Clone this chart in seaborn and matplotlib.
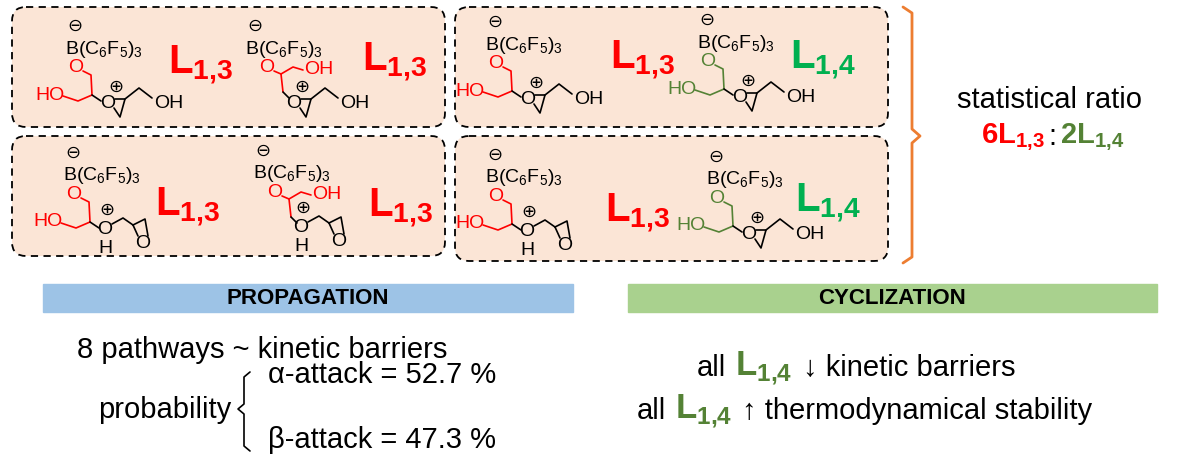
import matplotlib
matplotlib.use("Agg")
import matplotlib.pyplot as plt
import seaborn as sns
from matplotlib.patches import FancyBboxPatch, Rectangle

sns.set_theme(style="white")
plt.rcParams['font.family'] = ['Liberation Sans', 'DejaVu Sans']
plt.rcParams['mathtext.fontset'] = 'custom'
plt.rcParams['mathtext.rm'] = 'Liberation Sans'
plt.rcParams['mathtext.bf'] = 'Liberation Sans:bold'

RED, GREEN = '#ff0000', '#548235'
LGREEN = '#00b050'

# data
box_labels = [['1,3', '1,3'], ['1,3', '1,4'], ['1,3', '1,3'], ['1,3', '1,4']]
headers = ['PROPAGATION', 'CYCLIZATION']
n_pathways = 8
alpha_pct = 52.7
beta_pct = 47.3
ratio = [6, 2]

fig = plt.figure(figsize=(11.83, 4.77), dpi=100)
ax = fig.add_axes([0, 0, 1, 1])
ax.set_xlim(0, 1183)
ax.set_ylim(477, 0)
ax.axis('off')

def line(pts, c, ox, oy):
    ax.plot([ox + p[0] for p in pts], [oy + p[1] for p in pts], color=c, lw=1.2)

def txt(x, y, s, c='black', size=14, **kw):
    ax.text(x, y, s, color=c, fontsize=size, ha=kw.pop('ha', 'center'), va=kw.pop('va', 'center'), **kw)

def charge(x, y, s):
    txt(x, y, s, size=13)

def sub(s):
    return s.replace(',', '{,}')

def mol(kind, ox, oy, c):
    charge(ox, oy, '⊖')
    txt(ox - 10, oy + 23, 'B(C$_6$F$_5$)$_3$', ha='left')
    if kind in ('A', 'B'):
        txt(ox + 1, oy + 42, 'O', c)
        txt(ox - 25, oy + 69, 'HO', c)
        line([(8, 46), (16, 50), (17, 70), (3, 76), (-12, 71)], c, ox, oy)
        line([(17, 70), (26, 76)], 'black', ox, oy)
        hx = 0
    else:
        txt(ox + 12, oy + 42, 'O', c)
        txt(ox + 64, oy + 44, 'OH', c)
        line([(19, 46), (26, 49), (38, 42), (48, 45)], c, ox, oy)
        line([(26, 49), (28, 67)], c, ox, oy)
        line([(28, 67), (34, 73)], 'black', ox, oy)
        hx = 6
    ox2 = ox + hx
    if kind in ('A', 'A2'):
        txt(ox2 + 33, oy + 78, 'O')
        charge(ox2 + 41, oy + 61, '⊕')
        line([(40, 74), (50, 74), (45, 92), (39, 83)], 'black', ox2, oy)
        line([(50, 74), (64, 63), (77, 73)], 'black', ox2, oy)
        txt(ox2 + 94, oy + 78, 'OH')
    else:
        txt(ox2 + 32, oy + 77, 'O')
        charge(ox2 + 34, oy + 57, '⊕')
        txt(ox2 + 32, oy + 96, 'H')
        line([(39, 72), (50, 66), (60, 73)], 'black', ox2, oy)
        line([(60, 73), (72, 67), (75, 84)], 'black', ox2, oy)
        line([(60, 73), (65, 84)], 'black', ox2, oy)
        txt(ox2 + 70, oy + 91, 'O')

def label(x, y, s, c, size=29):
    txt(x, y, r'$\mathbf{L}_{\mathbf{' + sub(s) + '}}$', c, size=size, ha='left')

# boxes
boxes = [(12, 8, 433, 120), (455, 8, 433, 120), (12, 137, 433, 120), (455, 137, 433, 125)]
for b in boxes:
    ax.add_patch(FancyBboxPatch((b[0], b[1]), b[2], b[3], boxstyle='round,pad=0,rounding_size=14',
                                fc='#fbe5d6', ec='black', ls=(0, (4, 3)), lw=1.3))

mols = [('A', 75, 26, 'A2', 255, 26), ('A', 495, 22, 'A', 707, 20),
        ('B', 73, 153, 'B2', 263, 151), ('B', 495, 155, 'A', 716, 157)]
lab_pos = [((168, 65), (362, 62)), ((610, 60), (790, 60)), ((155, 207), (368, 208)), ((605, 213), (795, 203))]
for i, (k1, x1, y1, k2, x2, y2) in enumerate(mols):
    s1, s2 = box_labels[i]
    c1 = RED if s1 == '1,3' else GREEN
    c2 = RED if s2 == '1,3' else GREEN
    mol(k1, x1, y1, c1)
    mol(k2, x2, y2, c2)
    label(*lab_pos[i][0], s1, RED if s1 == '1,3' else LGREEN)
    label(*lab_pos[i][1], s2, RED if s2 == '1,3' else LGREEN)

# orange bracket
ax.plot([903, 912, 912, 920, 912, 912, 903], [8, 14, 130, 137, 144, 258, 264], color='#ed7d31', lw=2)
txt(1050, 100, 'statistical ratio', size=21)
ax.text(1045, 137, rf'$\mathbf{{{ratio[0]}L}}_{{\mathbf{{1{{,}}3}}}}$', color=RED, fontsize=21, ha='right', va='center')
txt(1052, 137, ':', size=21)
ax.text(1060, 137, rf'$\mathbf{{{ratio[1]}L}}_{{\mathbf{{1{{,}}4}}}}$', color=GREEN, fontsize=21, ha='left', va='center')

# headers
for (x0, w, col), h in zip([(43, 530, '#9dc3e6'), (628, 529, '#a9d18e')], headers):
    ax.add_patch(Rectangle((x0, 285), w, 28, color=col))
    txt(x0 + w / 2, 299, h, size=16, fontweight='bold')

txt(262, 350, f'{n_pathways} pathways ~ kinetic barriers', size=21)
txt(98, 410, 'probability', size=21, ha='left')
ax.plot([250, 244, 244, 238, 244, 244, 250], [373, 378, 405, 410, 415, 447, 452], color='black', lw=1.2)
txt(268, 375, f'α-attack = {alpha_pct} %', size=21, ha='left')
txt(268, 440, f'β-attack = {beta_pct} %', size=21, ha='left')

txt(697, 368, 'all', size=21, ha='left')
label(735, 368, '1,4', GREEN, size=25)
txt(803, 368, '↓ kinetic barriers', size=21, ha='left')
txt(637, 411, 'all', size=21, ha='left')
label(675, 411, '1,4', GREEN, size=25)
txt(742, 411, '↑ thermodynamical stability', size=21, ha='left')

fig.savefig('out.png', dpi=100, facecolor='white')
